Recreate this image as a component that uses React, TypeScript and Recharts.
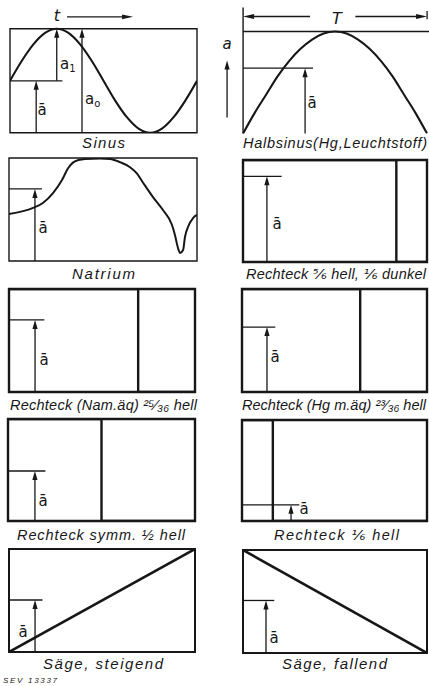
import React from 'react';
import { ComposedChart, Line, XAxis, YAxis, ReferenceLine, ReferenceArea } from 'recharts';

const INK = '#171717';
const FONT = '"DejaVu Sans", "Liberation Sans", sans-serif';
const LABEL_FONT = '"Liberation Sans", "DejaVu Sans", sans-serif';

// ---------- data (normalised: phase 0..1, amplitude 0..1 of each box) ----------
const sinusPhase = [0, 0.0625, 0.125, 0.1875, 0.25, 0.3125, 0.375, 0.4375, 0.5, 0.5625, 0.625, 0.6875, 0.75, 0.8125, 0.875, 0.9375, 1];
const sinusValues = [0.5, 0.69, 0.85, 0.96, 1.0, 0.96, 0.85, 0.69, 0.5, 0.31, 0.15, 0.04, 0.0, 0.04, 0.15, 0.31, 0.5];
const halbsinusValues = [0, 0.2, 0.38, 0.56, 0.71, 0.83, 0.92, 0.98, 1.0, 0.98, 0.92, 0.83, 0.71, 0.56, 0.38, 0.2, 0];
const natriumPhase = [0, 0.128, 0.18, 0.234, 0.282, 0.314, 0.34, 0.37, 0.404, 0.484, 0.537, 0.59, 0.644, 0.68, 0.713, 0.766, 0.819, 0.867, 0.883, 0.899, 0.91, 0.926, 0.936, 0.952, 0.979, 1.0];
const natriumValues = [0.456, 0.515, 0.563, 0.66, 0.786, 0.9, 0.955, 0.98, 0.99, 0.995, 0.99, 0.96, 0.91, 0.85, 0.76, 0.62, 0.495, 0.35, 0.25, 0.126, 0.078, 0.107, 0.233, 0.33, 0.417, 0.447];
const rechteckLabels = ['Rechteck ⅚ hell, ⅙ dunkel', 'Rechteck (Nam.äq) ²⁵⁄₃₆ hell', 'Rechteck (Hg m.äq) ²³⁄₃₆ hell', 'Rechteck symm. ½ hell', 'Rechteck ⅙ hell'];
const brightFractions = [5 / 6, 25 / 36, 23 / 36, 1 / 2, 1 / 6];
const meanValues = {
  sinus: 0.5,
  halbsinus: 0.64,
  natrium: 0.7,
  rechteck: [0.84, 0.7, 0.63, 0.49, 0.16],
  saegeSteigend: 0.505,
  saegeFallend: 0.51,
};
const saegeSteigend = [0, 1];
const saegeFallend = [1, 0];
const saegePhase = [0, 1];

const toPoints = (xs: number[], ys: number[]) => xs.map((x, i) => ({ x, y: ys[i] }));

// ---------- helpers ----------
type Box = { L: number; R: number; T: number; B: number };
const M = 6;

function Panel({ box, xd = [0, 1], yd = [0, 1], children }: { box: Box; xd?: number[]; yd?: number[]; children?: React.ReactNode }) {
  const w = box.R - box.L;
  const h = box.B - box.T;
  const pl = box.L + xd[0] * w;
  const pr = box.L + xd[1] * w;
  const pt = box.B - yd[1] * h;
  const pb = box.B - yd[0] * h;
  return (
    <div style={{ position: 'absolute', left: pl - M, top: pt - M }}>
      <ComposedChart width={pr - pl + 2 * M} height={pb - pt + 2 * M} margin={{ top: M, right: M, bottom: M, left: M }}>
        <XAxis type="number" dataKey="x" domain={xd} hide allowDataOverflow />
        <YAxis type="number" dataKey="y" domain={yd} hide allowDataOverflow />
        {children}
      </ComposedChart>
    </div>
  );
}

const arrowShape = (head = 9, half = 2.6, sw = 1.3) => (p: any) => {
  const { x1, y1, x2, y2 } = p;
  if ([x1, y1, x2, y2].some((v) => typeof v !== 'number' || isNaN(v))) return <g />;
  const dx = x2 - x1;
  const dy = y2 - y1;
  const len = Math.hypot(dx, dy) || 1;
  const ux = dx / len;
  const uy = dy / len;
  const bx = x2 - ux * head;
  const by = y2 - uy * head;
  return (
    <g>
      <line x1={x1} y1={y1} x2={bx + ux * 1} y2={by + uy * 1} stroke={INK} strokeWidth={sw} />
      <polygon points={`${x2},${y2} ${bx - uy * half},${by + ux * half} ${bx + uy * half},${by - ux * half}`} fill={INK} />
    </g>
  );
};

const seg = (key: string, x1: number, y1: number, x2: number, y2: number, sw = 1.3) => (
  <ReferenceLine key={key} segment={[{ x: x1, y: y1 }, { x: x2, y: y2 }]} stroke={INK} strokeWidth={sw} ifOverflow="visible" />
);

const arrow = (key: string, x1: number, y1: number, x2: number, y2: number, head = 9, half = 2.6) => (
  <ReferenceLine
    key={key}
    segment={[{ x: x1, y: y1 }, { x: x2, y: y2 }]}
    stroke={INK}
    strokeWidth={1.3}
    ifOverflow="visible"
    shape={arrowShape(head, half)}
  />
);

const frame = (key: string, sw: number) => (
  <ReferenceArea key={key} x1={0} x2={1} y1={0} y2={1} fill="none" fillOpacity={0} stroke={INK} strokeWidth={sw} ifOverflow="visible" />
);

// mean indicator: horizontal line from left edge + upward arrow
const meanMark = (mean: number, ax: number, hx: number) => [
  seg('mh', 0, mean, hx, mean, 1.3),
  arrow('ma', ax, 0, ax, mean),
];

// ---------- boxes (page px of the unit box) ----------
const B1: Box = { L: 10, R: 197, T: 29, B: 133 };
const B2: Box = { L: 243, R: 427, T: 31, B: 133 };
const B3: Box = { L: 9, R: 197, T: 158, B: 261 };
const rechteckBoxes: Box[] = [
  { L: 243, R: 427, T: 160, B: 262 },
  { L: 9, R: 195, T: 289, B: 392 },
  { L: 242, R: 427, T: 289, B: 392 },
  { L: 8, R: 195, T: 419, B: 521 },
  { L: 242, R: 427, T: 420, B: 521 },
];
const rechteckArrowX = [0.13, 0.14, 0.135, 0.144, 0.265];
const rechteckLineX = [0.21, 0.19, 0.18, 0.2, 0.31];
const rechteckMeanLabel = [
  [277, 229],
  [44, 365],
  [275, 362],
  [43, 506],
  [304, 514],
];
const rechteckLabelPos = [
  [246, 426, 279],
  [10, 197, 410],
  [242, 426, 410],
  [17, 185, 540],
  [274, 399, 540],
];
const B9: Box = { L: 9, R: 195, T: 549, B: 652 };
const B10: Box = { L: 243, R: 427, T: 550, B: 653 };

const textBase = { fontFamily: FONT, fill: INK } as const;

const Label = ({ x1, x2, y, text, size = 14.5 }: { x1: number; x2: number; y: number; text: string; size?: number }) => (
  <text x={x1} y={y} fontSize={size} fontStyle="italic" textLength={x2 - x1} lengthAdjust="spacing" fontFamily={LABEL_FONT} fill={INK}>
    {text}
  </text>
);

const ABar = ({ x, y }: { x: number; y: number }) => (
  <text x={x} y={y} fontSize={15} textAnchor="middle" {...textBase}>
    ā
  </text>
);

export default function App() {
  return (
    <div style={{ position: 'absolute', left: 0, top: 0, width: 429, height: 686, background: '#fff', overflow: 'hidden' }}>
      {/* Sinus */}
      <Panel box={B1} yd={[0, 1.2]}>
        {frame('f', 1.4)}
        <Line data={toPoints(sinusPhase, sinusValues)} dataKey="y" type="monotone" stroke={INK} strokeWidth={2.1} dot={false} isAnimationActive={false} />
        {meanMark(meanValues.sinus, 0.14, 0.28)}
        {arrow('a1', 0.25, meanValues.sinus, 0.25, 1)}
        {arrow('a0', 0.385, 0, 0.385, 1)}
        {arrow('t', 0.305, 1.115, 0.658, 1.115, 11, 2.4)}
      </Panel>

      {/* Halbsinus */}
      <Panel box={B2} xd={[-0.12, 1.02]} yd={[0, 1.25]}>
        {seg('l', 0, 0, 0, 1.235, 1.4)}
        {seg('t', 0, 1, 1.02, 1, 1.4)}
        {seg('rt', 1, 1.12, 1, 1.2, 1.3)}
        <Line data={toPoints(sinusPhase, halbsinusValues)} dataKey="y" type="monotone" stroke={INK} strokeWidth={2.1} dot={false} isAnimationActive={false} />
        {meanMark(meanValues.halbsinus, 0.337, 0.38)}
        {arrow('aa', -0.087, 0.157, -0.087, 0.716)}
        {arrow('tl', 0.364, 1.147, 0, 1.147, 11, 2.4)}
        {arrow('tr', 0.61, 1.147, 1.0, 1.147, 11, 2.4)}
      </Panel>

      {/* Natrium */}
      <Panel box={B3}>
        {frame('f', 1.4)}
        <Line data={toPoints(natriumPhase, natriumValues)} dataKey="y" type="monotone" stroke={INK} strokeWidth={2} dot={false} isAnimationActive={false} />
        {meanMark(meanValues.natrium, 0.138, 0.175)}
      </Panel>

      {/* Rechteck panels */}
      {rechteckBoxes.map((b, i) => (
        <Panel key={i} box={b}>
          {frame('f', 2.4)}
          <Line
            data={toPoints([0, brightFractions[i], brightFractions[i], 1], [1, 1, 0, 0])}
            dataKey="y"
            type="linear"
            stroke={INK}
            strokeWidth={2.4}
            strokeLinejoin="miter"
            dot={false}
            isAnimationActive={false}
          />
          {meanMark(meanValues.rechteck[i], rechteckArrowX[i], rechteckLineX[i])}
        </Panel>
      ))}

      {/* Säge steigend */}
      <Panel box={B9}>
        {frame('f', 2)}
        <Line data={toPoints(saegePhase, saegeSteigend)} dataKey="y" type="linear" stroke={INK} strokeWidth={2.6} dot={false} isAnimationActive={false} />
        {meanMark(meanValues.saegeSteigend, 0.14, 0.18)}
      </Panel>

      {/* Säge fallend */}
      <Panel box={B10}>
        {frame('f', 2)}
        <Line data={toPoints(saegePhase, saegeFallend)} dataKey="y" type="linear" stroke={INK} strokeWidth={2.6} dot={false} isAnimationActive={false} />
        {meanMark(meanValues.saegeFallend, 0.125, 0.17)}
      </Panel>

      {/* texts */}
      <svg width={429} height={686} style={{ position: 'absolute', left: 0, top: 0, pointerEvents: 'none' }}>
        <text x={57} y={21} fontSize={16} fontStyle="italic" textAnchor="middle" {...textBase}>t</text>
        <text x={337} y={24} fontSize={16} fontStyle="italic" textAnchor="middle" {...textBase}>T</text>
        <text x={227} y={49} fontSize={15} fontStyle="italic" textAnchor="middle" {...textBase}>a</text>
        <text x={60} y={69} fontSize={15} {...textBase}>
          a<tspan fontSize={10} dy={3}>1</tspan>
        </text>
        <text x={85} y={104} fontSize={15} {...textBase}>
          a<tspan fontSize={10} dy={3}>o</tspan>
        </text>
        <ABar x={42} y={115} />
        <ABar x={312} y={108} />
        <ABar x={43} y={233} />
        {rechteckMeanLabel.map(([x, y], i) => (
          <ABar key={i} x={x} y={y} />
        ))}
        <ABar x={23} y={637} />
        <ABar x={274} y={643} />

        <Label x1={82} x2={125} y={148} text="Sinus" size={15} />
        <Label x1={243} x2={427} y={148} text="Halbsinus(Hg,Leuchtstoff)" />
        <Label x1={72} x2={135} y={279} text="Natrium" size={15} />
        {rechteckLabels.map((t, i) => (
          <Label key={i} x1={rechteckLabelPos[i][0]} x2={rechteckLabelPos[i][1]} y={rechteckLabelPos[i][2]} text={t} />
        ))}
        <Label x1={43} x2={163} y={669} text="Säge, steigend" size={15} />
        <Label x1={282} x2={387} y={669} text="Säge, fallend" size={15} />
        <Label x1={3} x2={57} y={683} text="SEV 13337" size={8} />
      </svg>
    </div>
  );
}
